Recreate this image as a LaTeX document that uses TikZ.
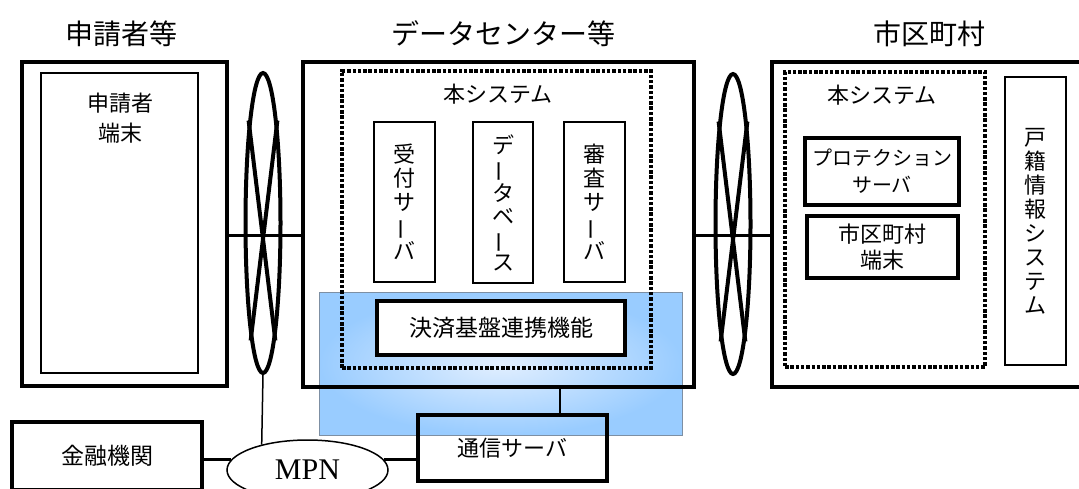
\documentclass[tikz,border=0pt]{standalone}
\usepackage{fontspec}
\usepackage{graphicx}
\usetikzlibrary{shapes.geometric}
\setmainfont{Noto Sans CJK JP}
\newfontfamily\mpnfont{Liberation Serif}
\definecolor{payblue}{HTML}{99CCFF}
\definecolor{paylight}{HTML}{E2EFFF}
\definecolor{payedge}{HTML}{7D8FA3}
\newcommand{\bou}{\rotatebox[origin=c]{90}{ー}}

\begin{document}
\begin{tikzpicture}[x=1pt,y=-1pt,every node/.style={inner sep=0pt,align=center},
  site/.style={draw,line width=4.5pt},
  thinbox/.style={draw,line width=1.4pt},
  midbox/.style={draw,line width=3.3pt},
  honsys/.style={draw,line width=3.5pt,dash pattern=on 3.5pt off 1.8pt},
  net/.style={draw,ellipse,line width=4pt,minimum width=35pt,minimum height=300pt},
  link/.style={line width=3pt},
  tap/.style={line width=1.5pt},
  ttl/.style={font=\fontsize{28}{32}\selectfont},
  lbl/.style={font=\fontsize{22}{30}\selectfont},
  tate/.style={font=\fontsize{22}{#1}\selectfont}]
  \useasboundingbox (0,0) rectangle (1079,488);
  \clip (0,0) rectangle (1079,488);

  % titles
  \node[ttl] (ttlA) at (121,34) {申請者等};
  \node[ttl] (ttlB) at (503,34) {データセンター等};
  \node[ttl] (ttlC) at (929,34) {市区町村};

  % payment band behind the data centre
  \node[draw=payedge,line width=0.8pt,shading=radial,inner color=paylight,outer color=payblue,
        minimum width=363pt,minimum height=143pt] (band) at (500.5,363.5) {};

  % applicant side
  \node[site,minimum width=205pt,minimum height=324pt] (shinsei) at (124.5,224) {};
  \node[thinbox,minimum width=157pt,minimum height=300pt] (term) at (119.5,223) {};
  \node[lbl] (termtxt) at (120,118) {申請者\\端末};

  % data centre
  \node[site,minimum width=391pt,minimum height=325pt] (dc) at (498.5,224.5) {};
  \node[honsys,minimum width=309pt,minimum height=297pt] (sysA) at (496.5,219.5) {};
  \node[lbl] (sysAtxt) at (498,94) {本システム};
  \node[thinbox,tate=24,minimum width=61pt,minimum height=160pt] (uke) at (404.5,202) {受\\付\\サ\\\bou\\バ};
  \node[thinbox,tate=23,minimum width=60pt,minimum height=161pt] (db) at (503,202.5) {デ\\\bou\\タ\\ベ\\\bou\\ス};
  \node[thinbox,tate=24,minimum width=61pt,minimum height=160pt] (shin) at (594.5,202) {審\\査\\サ\\\bou\\バ};
  \node[midbox,fill=white,font=\fontsize{23}{26}\selectfont,minimum width=248pt,minimum height=54pt] (kessai) at (501,328) {決済基盤連携機能};
  \node[midbox,font=\fontsize{22}{26}\selectfont,minimum width=189pt,minimum height=66pt] (tsu) at (512.5,448) {通信サーバ};
  \coordinate (tapC) at (560,387);
  \draw[tap] (tapC) -- (tapC |- tsu.north);

  % municipality
  \node[site,minimum width=328pt,minimum height=325pt] (city) at (936,224.5) {};
  \node[honsys,minimum width=200pt,minimum height=295pt] (sysB) at (885,219.5) {};
  \node[lbl] (sysBtxt) at (882,95) {本システム};
  \node[midbox,font=\fontsize{20}{27}\selectfont,minimum width=154pt,minimum height=67pt] (prot) at (882,171.5) {プロテクション\\サーバ};
  \node[midbox,font=\fontsize{22}{26}\selectfont,minimum width=151pt,minimum height=62pt] (cterm) at (882.5,247) {市区町村\\端末};
  \node[thinbox,tate=24,minimum width=61pt,minimum height=288pt] (koseki) at (1035.5,221) {戸\\籍\\情\\報\\シ\\ス\\テ\\ム};

  % networks
  \node[net] (netL) at (263,223) {};
  \draw[line width=4pt] (netL.98) -- (netL.-84) (netL.82) -- (netL.-96);
  \node[net] (netR) at (733,224) {};
  \draw[line width=4pt] (netR.98) -- (netR.-84) (netR.82) -- (netR.-96);
  \coordinate (rowL) at (263,235);
  \coordinate (rowR) at (733,235);
  \draw[link] (rowL -| shinsei.east) -- (rowL -| dc.west);
  \draw[link] (rowR -| dc.east) -- (rowR -| city.west);

  % bank and MPN
  \node[midbox,font=\fontsize{23}{26}\selectfont,minimum width=190pt,minimum height=68pt] (bank) at (107,456) {金融機関};
  \node[draw,ellipse,line width=1.5pt,font=\mpnfont\fontsize{30}{32}\selectfont,
        minimum width=161pt,minimum height=60pt] (mpn) at (307.5,470) {MPN};
  \draw[link] (mpn.172) -- (mpn.172 -| bank.east);
  \draw[link] (mpn.8) -- (mpn.8 -| tsu.west);
  \draw[tap] (netL.south) -- (mpn.151);
\end{tikzpicture}
\end{document}
